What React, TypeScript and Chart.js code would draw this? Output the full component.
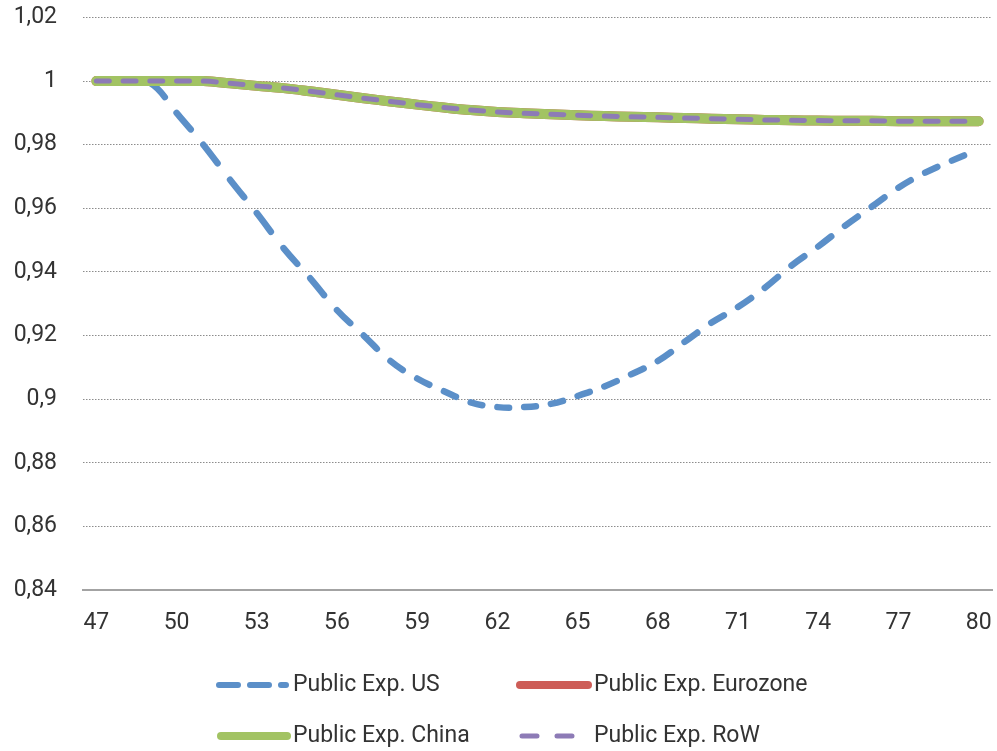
import React, { useEffect, useRef } from 'react';
import { Chart, registerables } from 'chart.js';

Chart.register(...registerables);

const categories = ['47','48','49','50','51','52','53','54','55','56','57','58','59','60','61','62','63','64','65','66','67','68','69','70','71','72','73','74','75','76','77','78','79','80'];

const usValues = [1.000, 1.000, 0.9995, 0.990, 0.980, 0.969, 0.9585, 0.9475, 0.938, 0.928,
  0.920, 0.912, 0.9065, 0.9025, 0.899, 0.8975, 0.8975, 0.8985, 0.901, 0.904,
  0.9078, 0.912, 0.918, 0.924, 0.929, 0.935, 0.942, 0.948, 0.9545, 0.9605,
  0.9665, 0.9712, 0.975, 0.9785];

const eurozoneValues = [1.000, 1.000, 1.000, 1.000, 1.000, 0.9993, 0.9985, 0.9978, 0.9968, 0.9957,
  0.9946, 0.9936, 0.9926, 0.9917, 0.9909, 0.9903, 0.9899, 0.9896, 0.9893, 0.9890,
  0.9888, 0.9886, 0.9884, 0.9882, 0.9880, 0.9878, 0.9877, 0.9876, 0.9875, 0.9875,
  0.9874, 0.9874, 0.9874, 0.9874];

const chinaValues = [1.000, 1.000, 1.000, 1.000, 1.000, 0.9993, 0.9985, 0.9978, 0.9968, 0.9957,
  0.9946, 0.9936, 0.9926, 0.9917, 0.9909, 0.9903, 0.9899, 0.9896, 0.9893, 0.9890,
  0.9888, 0.9886, 0.9884, 0.9882, 0.9880, 0.9878, 0.9877, 0.9876, 0.9875, 0.9875,
  0.9874, 0.9874, 0.9874, 0.9874];

const rowValues = [1.000, 1.000, 1.000, 1.000, 1.000, 0.9993, 0.9985, 0.9978, 0.9968, 0.9957,
  0.9946, 0.9936, 0.9926, 0.9917, 0.9909, 0.9903, 0.9899, 0.9896, 0.9893, 0.9890,
  0.9888, 0.9886, 0.9884, 0.9882, 0.9880, 0.9878, 0.9877, 0.9876, 0.9875, 0.9875,
  0.9874, 0.9874, 0.9874, 0.9874];

const seriesNames = ['Public Exp. US', 'Public Exp. Eurozone', 'Public Exp. China', 'Public Exp. RoW'];

const yMin = 0.84;
const yMax = 1.02;
const yStep = 0.02;
const xLabelEvery = 3;

const BLUE = '#5b8fc8';
const RED = '#cd5d57';
const GREEN = '#a2c363';
const PURPLE = '#8d7bb6';
const TEXT = '#333333';
const FONT = 'Roboto';

// Excel-like dashes: the dash pattern restarts at each data point
const perSegmentDash = (frac: number, w: number) => ({
  borderDash: (ctx: any) => {
    const L = Math.hypot(ctx.p1.x - ctx.p0.x, ctx.p1.y - ctx.p0.y);
    return [Math.max(frac * L - w, 1), L * 3 + 10];
  },
  borderDashOffset: (ctx: any) => ctx.p0DataIndex * 1e-4,
});

const legendPlugin = {
  id: 'customLegend',
  afterDraw(chart: any) {
    const ctx = chart.ctx;
    const row1 = 685;
    const row2 = 736;
    const colA = 217;
    const colB = 517;
    const textA = 293;
    const textB = 594;
    ctx.save();
    ctx.lineCap = 'round';
    // US
    ctx.strokeStyle = BLUE;
    ctx.lineWidth = 6;
    ctx.setLineDash([19, 12]);
    ctx.beginPath();
    ctx.moveTo(colA + 2, row1);
    ctx.lineTo(colA + 69, row1);
    ctx.stroke();
    // Eurozone
    ctx.setLineDash([]);
    ctx.strokeStyle = RED;
    ctx.lineWidth = 8;
    ctx.beginPath();
    ctx.moveTo(colB + 3, row1);
    ctx.lineTo(colB + 71, row1);
    ctx.stroke();
    // China
    ctx.strokeStyle = GREEN;
    ctx.beginPath();
    ctx.moveTo(colA + 4, row2);
    ctx.lineTo(colA + 70, row2);
    ctx.stroke();
    // RoW
    ctx.strokeStyle = PURPLE;
    ctx.lineWidth = 5;
    ctx.setLineDash([15, 20]);
    ctx.beginPath();
    ctx.moveTo(colB + 5, row2);
    ctx.lineTo(colB + 58, row2);
    ctx.stroke();
    ctx.setLineDash([]);
    ctx.fillStyle = TEXT;
    ctx.font = `23px ${FONT}`;
    ctx.textBaseline = 'middle';
    ctx.textAlign = 'left';
    ctx.fillText(seriesNames[0], textA, row1);
    ctx.fillText(seriesNames[1], textB, row1);
    ctx.fillText(seriesNames[2], textA, row2);
    ctx.fillText(seriesNames[3], textB, row2);
    ctx.restore();
  },
};

export default function App() {
  const ref = useRef<HTMLCanvasElement | null>(null);

  useEffect(() => {
    if (!ref.current) return;
    const chart = new Chart(ref.current, {
      type: 'line',
      data: {
        labels: categories,
        datasets: [
          {
            label: seriesNames[0],
            data: usValues,
            borderColor: BLUE,
            borderWidth: 6.5,
            borderCapStyle: 'round',
            tension: 0.4,
            pointRadius: 0,
            pointHoverRadius: 0,
            fill: false,
            order: 4,
            segment: perSegmentDash(0.68, 6.5),
          } as any,
          {
            label: seriesNames[1],
            data: eurozoneValues,
            borderColor: RED,
            borderWidth: 10,
            borderCapStyle: 'round',
            tension: 0.4,
            pointRadius: 0,
            pointHoverRadius: 0,
            fill: false,
            order: 3,
          },
          {
            label: seriesNames[2],
            data: chinaValues,
            borderColor: GREEN,
            borderWidth: 10,
            borderCapStyle: 'round',
            tension: 0.4,
            pointRadius: 0,
            pointHoverRadius: 0,
            fill: false,
            order: 2,
          },
          {
            label: seriesNames[3],
            data: rowValues,
            borderColor: PURPLE,
            borderWidth: 5,
            borderCapStyle: 'round',
            tension: 0.4,
            pointRadius: 0,
            pointHoverRadius: 0,
            fill: false,
            order: 1,
            segment: perSegmentDash(0.67, 5),
          } as any,
        ],
      },
      options: {
        responsive: false,
        animation: false,
        events: [],
        layout: { padding: { left: 8, right: 5, top: 17.5, bottom: 0 } },
        plugins: {
          legend: { display: false },
          tooltip: { enabled: false },
        },
        scales: {
          x: {
            type: 'category',
            offset: true,
            grid: { display: false, drawTicks: false },
            border: { display: true, color: '#a3a3a3', width: 2 },
            ticks: {
              autoSkip: false,
              maxRotation: 0,
              minRotation: 0,
              padding: 19,
              color: TEXT,
              font: { family: FONT, size: 23 },
              callback: (_v: any, i: number) => (i % xLabelEvery === 0 ? categories[i] : ''),
            },
            afterFit: (scale: any) => {
              scale.height = 161;
              scale.paddingLeft = 0;
              scale.paddingRight = 0;
            },
          },
          y: {
            min: yMin,
            max: yMax,
            grid: { display: true, drawTicks: false, color: '#8c8c8c', lineWidth: 1 },
            border: { display: false, dash: [1.5, 1.5] },
            ticks: {
              stepSize: yStep,
              padding: 26,
              color: TEXT,
              font: { family: FONT, size: 23 },
              callback: (v: any) => String(Number(Number(v).toFixed(2))).replace('.', ','),
            },
            afterFit: (scale: any) => {
              scale.width = 75;
              scale.paddingTop = 0;
              scale.paddingBottom = 0;
            },
          },
        },
      },
      plugins: [legendPlugin],
    });
    return () => chart.destroy();
  }, []);

  return (
    <div style={{ position: 'absolute', left: 0, top: 0, width: 997, height: 751, background: '#fff' }}>
      <canvas ref={ref} width={997} height={751} style={{ display: 'block' }} />
    </div>
  );
}
